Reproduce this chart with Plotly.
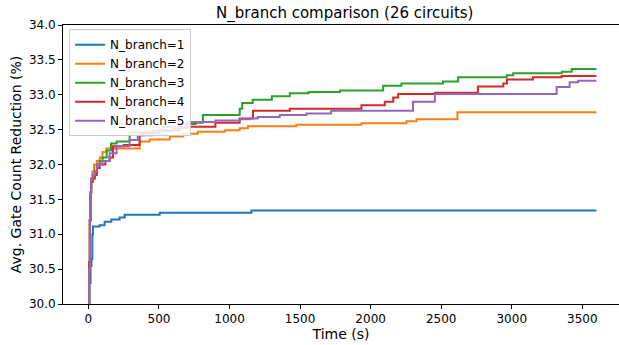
import plotly.graph_objects as go

# Data (step series)
t1 = [0, 8, 15, 22, 28, 32, 80, 115, 162, 221, 257, 505, 1155, 3600]
v1 = [29.8, 30.3, 30.55, 30.65, 31.0, 31.11, 31.13, 31.18, 31.21, 31.24, 31.28, 31.31, 31.34, 31.34]

t2 = [0, 5, 10, 15, 20, 28, 40, 60, 80, 100, 127, 363, 434, 577, 670, 775, 966, 1072, 1130,
      1474, 1935, 2254, 2325, 2615, 3600]
v2 = [29.8, 30.6, 31.2, 31.6, 31.8, 31.9, 32.0, 32.05, 32.1, 32.18, 32.23, 32.33, 32.36, 32.40,
      32.44, 32.47, 32.49, 32.52, 32.55, 32.57, 32.59, 32.62, 32.65, 32.75, 32.75]

t3 = [0, 5, 10, 15, 20, 30, 45, 60, 80, 100, 130, 160, 200, 292, 400, 505, 600, 700, 760, 812,
      1072, 1090, 1164, 1300, 1427, 1560, 1783, 2089, 2218, 2513, 2620, 2964, 3010, 3035, 3354,
      3425, 3600]
v3 = [29.8, 30.6, 31.2, 31.6, 31.75, 31.8, 31.9, 32.0, 32.05, 32.1, 32.2, 32.3, 32.33, 32.46,
      32.47, 32.48, 32.52, 32.58, 32.6, 32.71, 32.8, 32.88, 32.93, 32.98, 33.02, 33.04, 33.06,
      33.13, 33.16, 33.19, 33.25, 33.28, 33.31, 33.31, 33.33, 33.37, 33.37]

t4 = [0, 5, 10, 15, 20, 30, 45, 60, 80, 120, 150, 174, 250, 363, 380, 500, 647, 900, 1072, 1166,
      1427, 1935, 2100, 2160, 2195, 2455, 2760, 2940, 2966, 3150, 3354, 3600]
v4 = [29.8, 30.6, 31.2, 31.6, 31.75, 31.8, 31.85, 31.95, 32.0, 32.05, 32.1, 32.26, 32.28, 32.42,
      32.45, 32.49, 32.54, 32.6, 32.66, 32.77, 32.80, 32.85, 32.90, 32.96, 33.01, 33.03, 33.12,
      33.16, 33.22, 33.25, 33.27, 33.27]

t5 = [0, 5, 10, 15, 20, 30, 44, 60, 100, 150, 200, 292, 350, 450, 528, 647, 700, 900, 1072, 1144,
      1200, 1356, 1545, 1720, 2300, 2455, 3318, 3410, 3470, 3600]
v5 = [29.8, 30.5, 31.2, 31.6, 31.8, 31.85, 31.9, 32.0, 32.05, 32.16, 32.26, 32.35, 32.42, 32.48,
      32.54, 32.58, 32.61, 32.63, 32.65, 32.66, 32.68, 32.71, 32.73, 32.77, 32.90, 33.01, 33.11,
      33.18, 33.20, 33.20]

names = ["N_branch=1", "N_branch=2", "N_branch=3", "N_branch=4", "N_branch=5"]
colors = ["#1f77b4", "#ff7f0e", "#2ca02c", "#d62728", "#9467bd"]
series = [(t1, v1), (t2, v2), (t3, v3), (t4, v4), (t5, v5)]

xticks = [0, 500, 1000, 1500, 2000, 2500, 3000, 3500]
yticks = [30.0, 30.5, 31.0, 31.5, 32.0, 32.5, 33.0, 33.5, 34.0]

font = "DejaVu Sans, Liberation Sans, sans-serif"

fig = go.Figure()
for (t, v), n, c in zip(series, names, colors):
    fig.add_trace(go.Scatter(x=t, y=v, mode="lines", name=n, line=dict(color=c, width=2, shape="hv")))

fig.update_layout(
    width=619, height=345,
    margin=dict(l=63, r=0, t=25, b=41),
    paper_bgcolor="white", plot_bgcolor="white",
    font=dict(family=font, size=12, color="black"),
    title=dict(text="N_branch comparison (26 circuits)", x=0.557, xanchor="center",
               y=1 - 13 / 345, yanchor="middle", font=dict(size=15)),
    legend=dict(x=0.011, y=0.985, xanchor="left", yanchor="top",
                bgcolor="rgba(255,255,255,0.85)", bordercolor="#cccccc", borderwidth=1,
                font=dict(size=12), itemwidth=30, tracegroupgap=0),
    showlegend=True,
)
fig.update_xaxes(range=[-180, 3760], tickvals=xticks, ticktext=[str(v) for v in xticks],
                 showgrid=False, zeroline=False, showline=True, linecolor="black", linewidth=1,
                 mirror=True, ticks="outside", ticklen=4, tickcolor="black",
                 title=dict(text="Time (s)", standoff=2), tickfont=dict(size=12))
fig.update_yaxes(range=[30, 34], tickvals=yticks, ticktext=[f"{v:.1f}" for v in yticks],
                 showgrid=False, zeroline=False, showline=True, linecolor="black", linewidth=1,
                 ticks="outside", ticklen=4, tickcolor="black",
                 title=dict(text="Avg. Gate Count Reduction (%)", standoff=3), tickfont=dict(size=12))

fig.write_html("out.html")
